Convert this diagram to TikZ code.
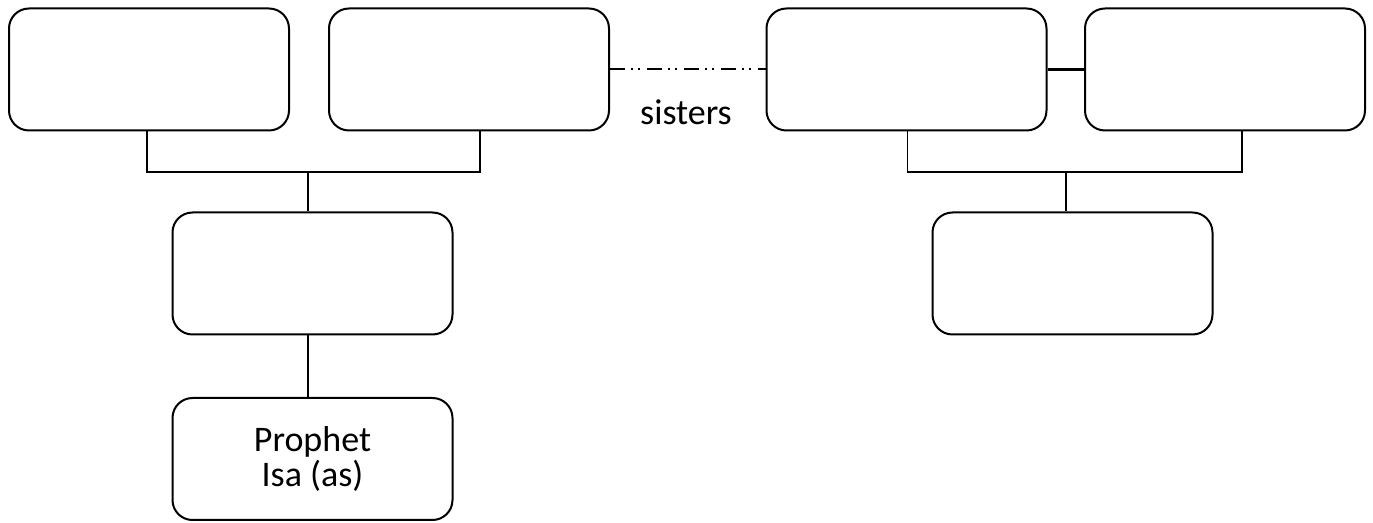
\documentclass[tikz,border=0pt]{standalone}
\usepackage{fontspec}
\setmainfont{Carlito}

\begin{document}
\begin{tikzpicture}[x=0.5pt,y=-0.5pt,
    person/.style={draw,line width=1pt,rounded corners=10pt,minimum width=140pt,minimum height=61pt,
      align=center,font=\fontsize{18pt}{17.5pt}\selectfont,inner sep=0pt},
    link/.style={line width=0.9pt},
    sisterlink/.style={line width=1pt,dash pattern=on 7.5pt off 3pt on 1pt off 2.5pt on 1pt off 3.5pt}]
  \useasboundingbox (0,0) rectangle (1373,523);

  % Persons
  \node[person] (A) at (149,69.5) {};
  \node[person] (B) at (469,69.5) {};
  \node[person] (C) at (906.5,69.5) {};
  \node[person] (D) at (1225,69.5) {};
  \node[person] (E) at (312.5,273.5) {};
  \node[person] (F) at (1072.5,273.5) {};
  \node[person] (G) at (312.5,459) {Prophet\\Isa (as)};

  % Left family
  \coordinate (busL) at (308,172);
  \draw[link] ([xshift=-1pt]A.south) |- ([xshift=5.5pt]B.south |- busL) -- ([xshift=5.5pt]B.south);
  \draw[link] (busL) -- (busL |- E.north);
  \draw[link] (E.south -| busL) -- (G.north -| busL);

  % Right family
  \coordinate (busR) at (1066,172);
  \draw[link] ([xshift=0.5pt]C.south) |- ([xshift=8.5pt]D.south |- busR) -- ([xshift=8.5pt]D.south);
  \draw[link] (busR) -- (busR |- F.north);
  \draw[line width=1.2pt] (C.east) -- (D.west);

  % Sisters
  \draw[sisterlink] (B.east) -- (C.west);
  \node[font=\fontsize{18pt}{18pt}\selectfont] (sisters) at (686,112) {sisters};
\end{tikzpicture}
\end{document}
